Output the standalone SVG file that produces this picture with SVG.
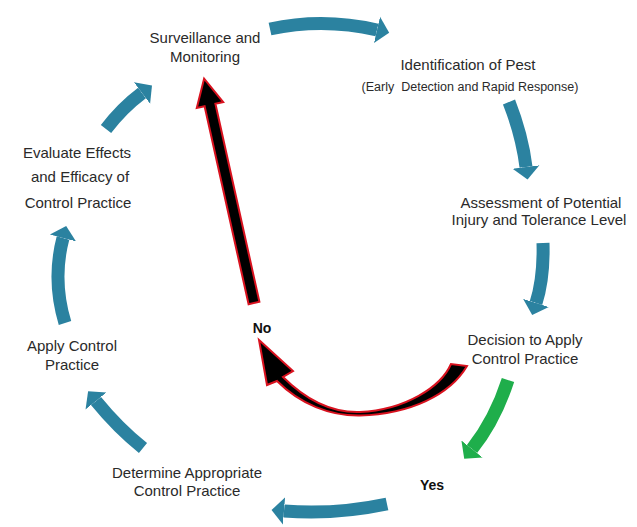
<svg xmlns="http://www.w3.org/2000/svg" width="637" height="527" viewBox="0 0 637 527">
<defs>
<style>
.t{font-family:"Liberation Sans",Arial,sans-serif;font-size:15px;fill:#2a2a2a;text-anchor:middle}
.s{font-size:12.5px}
.b{font-weight:bold;font-size:14px;fill:#111}
.teal{fill:none;stroke:#2b82a0;stroke-width:13;marker-end:url(#hT)}
.green{fill:none;stroke:#1fae4b;stroke-width:13;marker-end:url(#hG)}
.no{fill:#000;stroke:#d9121f;stroke-width:2;stroke-linejoin:miter}
</style>
<marker id="hT" viewBox="0 -15 14 30" markerWidth="14" markerHeight="30" refX="0" refY="0" orient="auto" markerUnits="userSpaceOnUse">
<path d="M0,-13.5 L12.5,0 L0,13.5 z" fill="#2b82a0"/>
</marker>
<marker id="hG" viewBox="0 -15 14 30" markerWidth="14" markerHeight="30" refX="0" refY="0" orient="auto" markerUnits="userSpaceOnUse">
<path d="M0,-13.5 L12.5,0 L0,13.5 z" fill="#1fae4b"/>
</marker>
</defs>
<rect width="637" height="527" fill="#fff"/>
<g id="connectors">
<path class="teal" d="M270,29 Q323,17.5 377,30"/>
<path class="teal" d="M509,102 Q522,135 526,167"/>
<path class="teal" d="M543,243 Q544,278 536,303"/>
<path class="green" d="M508,380 Q495,420 472,449"/>
<path class="teal" d="M387,504 Q335,515 284,511"/>
<path class="teal" d="M143,448 Q118,428 96,401"/>
<path class="teal" d="M65,323 Q52,280 63,238"/>
<path class="teal" d="M106,129 Q122,108 142,93"/>
<polygon class="no" points="248.6,304.2 204.6,106.2 196.8,107.9 204.1,78.6 223.2,102.1 215.4,103.8 259.4,301.8"/>
<path class="no" d="M277,381 C300,404 330,416 360,415.5 C410,414 450,395 467,366 L451,364 C441,387 405,410 360,412 C331,413 306,400 283,377 L293,371 L259,340 L267,385 Z"/>
</g>
<g id="surveillance"><text class="t" x="205" y="43">Surveillance and</text><text class="t" x="205" y="62">Monitoring</text></g>
<g id="identification"><text class="t" x="468" y="70">Identification of Pest</text><text class="t s" x="470" y="91" xml:space="preserve">(Early  Detection and Rapid Response)</text></g>
<g id="assessment"><text class="t" x="541" y="208">Assessment of Potential</text><text class="t" x="539" y="225">Injury and Tolerance Level</text></g>
<g id="decision"><text class="t" x="525" y="345">Decision to Apply</text><text class="t" x="525" y="364">Control Practice</text></g>
<g id="yes"><text class="t b" x="432" y="490">Yes</text></g>
<g id="determine"><text class="t" x="187" y="478">Determine Appropriate</text><text class="t" x="187" y="496">Control Practice</text></g>
<g id="apply"><text class="t" x="72" y="351">Apply Control</text><text class="t" x="72" y="370">Practice</text></g>
<g id="evaluate"><text class="t" x="77" y="158">Evaluate Effects</text><text class="t" x="80" y="182">and Efficacy of</text><text class="t" x="78" y="208">Control Practice</text></g>
<g id="no"><text class="t b" x="262" y="333">No</text></g>
</svg>
